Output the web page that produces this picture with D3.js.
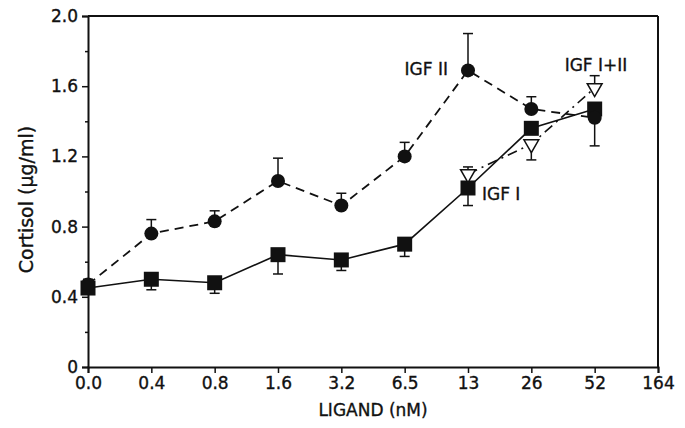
<!DOCTYPE html>
<html>
<head>
<meta charset="utf-8">
<script src="https://cdn.jsdelivr.net/npm/d3@7"></script>
<style>
  body { margin: 0; background: #fff; }
  svg text { font-family: "DejaVu Sans", sans-serif; fill: #111; stroke: #111; stroke-width: 0.35px; }
</style>
</head>
<body>
<svg width="685" height="428"></svg>
<script>
const doses = ["0.0", "0.4", "0.8", "1.6", "3.2", "6.5", "13", "26", "52", "164"];

// IGF II (filled circles, dashed)
const igf2 = [0.47, 0.76, 0.83, 1.06, 0.92, 1.20, 1.69, 1.47, 1.42];
const igf2Err = [0.03, 0.08, 0.06, 0.13, 0.07, 0.08, 0.21, 0.07, -0.16];

// IGF I (filled squares, solid)
const igf1 = [0.45, 0.50, 0.48, 0.64, 0.61, 0.70, 1.02, 1.36, 1.47];
const igf1Err = [-0.03, -0.06, -0.06, -0.11, -0.06, -0.07, -0.10, 0, 0];

// IGF I+II (open triangles, dash-dot)
const igf12Doses = ["13", "26", "52"];
const igf12 = [1.10, 1.27, 1.59];
const igf12Err = [0.04, -0.09, 0.07];

const yTicks = [0, 0.4, 0.8, 1.2, 1.6, 2.0];
const yMinor = [0.2, 0.6, 1.0, 1.4, 1.8];

let svg = d3.select("svg");
let area = { left: 88, right: 658, top: 16, bottom: 367 };

let scX = d3.scalePoint().domain(doses).range([area.left, area.right]);
let scY = d3.scaleLinear().domain([0, 2]).range([area.bottom, area.top]);

// frame (top + right)
svg.append("line")
    .attr("x1", area.left).attr("x2", area.right)
    .attr("y1", area.top).attr("y2", area.top)
    .attr("stroke", "#111").attr("stroke-width", 2);
svg.append("line")
    .attr("x1", area.right).attr("x2", area.right)
    .attr("y1", area.top).attr("y2", area.bottom)
    .attr("stroke", "#111").attr("stroke-width", 2);

// axes
svg.append("g")
    .attr("transform", `translate(0, ${area.bottom})`)
    .call(d3.axisBottom(scX).tickSize(6).tickPadding(4));
svg.append("g")
    .attr("transform", `translate(${area.left}, 0)`)
    .call(d3.axisLeft(scY).tickValues(yTicks).tickSize(6).tickPadding(4)
        .tickFormat(d => d === 0 ? "0" : d3.format(".1f")(d)));
svg.append("g")
    .attr("transform", `translate(${area.left}, 0)`)
    .call(d3.axisLeft(scY).tickValues(yMinor).tickSize(3).tickFormat(""))
    .call(g => g.select(".domain").remove());

svg.selectAll(".domain").attr("stroke", "#111").attr("stroke-width", 2);
svg.selectAll(".tick line").attr("stroke", "#111").attr("stroke-width", 1.5);
svg.selectAll(".tick text").style("font-size", "17px").attr("fill", "#111");

// axis titles
svg.append("text")
    .attr("x", (area.left + area.right) / 2)
    .attr("y", 416)
    .attr("text-anchor", "middle")
    .style("font-size", "17px")
    .text("LIGAND (nM)");
svg.append("text")
    .attr("transform", `translate(33, ${(area.top + area.bottom) / 2 + 8}) rotate(-90)`)
    .attr("text-anchor", "middle")
    .style("font-size", "19px")
    .text("Cortisol (µg/ml)");

const line = d3.line().x(d => scX(d.dose)).y(d => scY(d.value));
const toPts = (ds, vals, errs) => vals.map((v, i) => ({ dose: ds[i], value: v, err: errs[i] }));

let ptsII = toPts(doses, igf2, igf2Err);
let ptsI = toPts(doses, igf1, igf1Err);
let ptsIII = toPts(igf12Doses, igf12, igf12Err);

function drawErr(pts) {
    let g = svg.append("g").attr("stroke", "#111").attr("stroke-width", 1.5);
    pts.filter(d => d.err !== 0).forEach(d => {
        let x = scX(d.dose), y0 = scY(d.value), y1 = scY(d.value + d.err);
        g.append("line").attr("x1", x).attr("x2", x).attr("y1", y0).attr("y2", y1);
        g.append("line").attr("x1", x - 5).attr("x2", x + 5).attr("y1", y1).attr("y2", y1);
    });
}

drawErr(ptsII);
drawErr(ptsI);
drawErr(ptsIII);

// lines
svg.append("path").datum(ptsII)
    .attr("fill", "none").attr("stroke", "#111").attr("stroke-width", 1.8)
    .attr("stroke-dasharray", "9,6").attr("d", line);
svg.append("path").datum(ptsI)
    .attr("fill", "none").attr("stroke", "#111").attr("stroke-width", 1.6)
    .attr("d", line);
svg.append("path").datum(ptsIII)
    .attr("fill", "none").attr("stroke", "#111").attr("stroke-width", 1.6)
    .attr("stroke-dasharray", "10,5,2,5").attr("d", line);

// markers
svg.selectAll(".sq").data(ptsI).enter().append("rect")
    .attr("x", d => scX(d.dose) - 7.5).attr("y", d => scY(d.value) - 7.5)
    .attr("width", 15).attr("height", 15)
    .attr("fill", "#111");
svg.selectAll(".dot").data(ptsII).enter().append("circle")
    .attr("cx", d => scX(d.dose)).attr("cy", d => scY(d.value))
    .attr("r", 7).attr("fill", "#111");
svg.selectAll(".tri").data(ptsIII).enter().append("path")
    .attr("d", d3.symbol().type(d3.symbolTriangle).size(95))
    .attr("transform", d => `translate(${scX(d.dose)}, ${scY(d.value)}) rotate(180)`)
    .attr("fill", "#fff").attr("stroke", "#111").attr("stroke-width", 1.5);

// series labels
svg.append("text")
    .attr("x", scX("13") - 20).attr("y", scY(igf2[6]) + 5)
    .attr("text-anchor", "end").style("font-size", "17px")
    .text("IGF II");
svg.append("text")
    .attr("x", scX("13") + 14).attr("y", scY(igf1[6]) + 12)
    .style("font-size", "17px")
    .text("IGF I");
svg.append("text")
    .attr("x", scX("52") - 30).attr("y", scY(igf12[2]) - 17)
    .style("font-size", "17px")
    .text("IGF I+II");
</script>
</body>
</html>
